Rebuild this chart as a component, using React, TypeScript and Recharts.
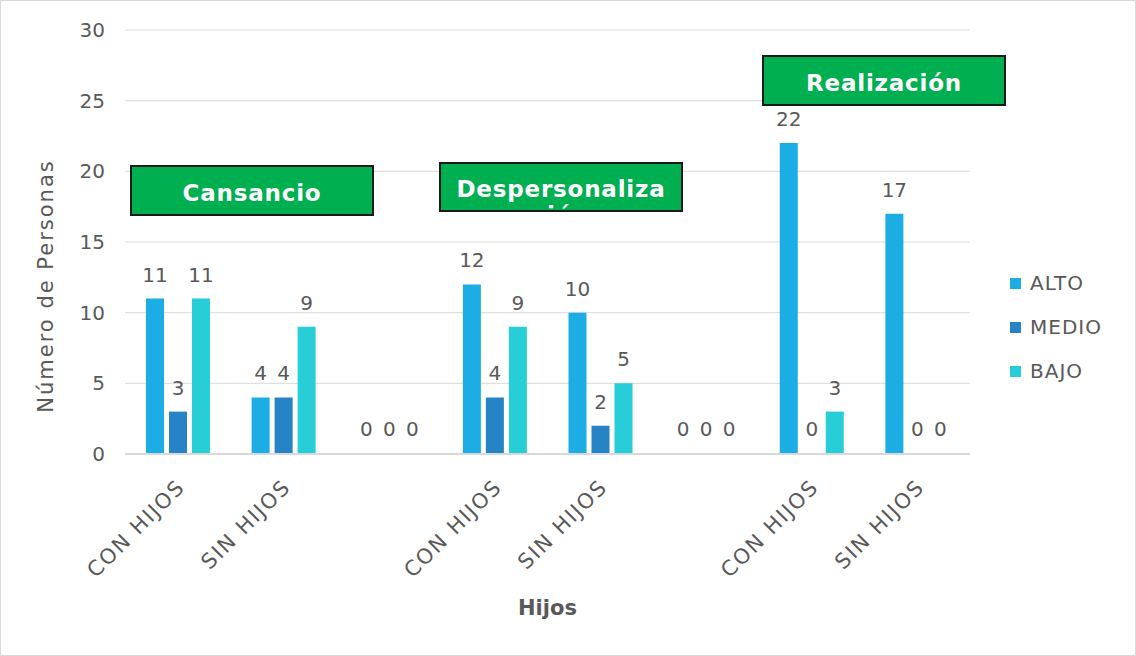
import { BarChart, Bar, XAxis, YAxis, CartesianGrid, Legend, LabelList, Label, Rectangle } from "recharts";

const categories = ["CON HIJOS", "SIN HIJOS", "", "CON HIJOS", "SIN HIJOS", "", "CON HIJOS", "SIN HIJOS"];
const alto = [11, 4, 0, 12, 10, 0, 22, 17];
const medio = [3, 4, 0, 4, 2, 0, 0, 0];
const bajo = [11, 9, 0, 9, 5, 0, 3, 0];
const yTicks = [0, 5, 10, 15, 20, 25, 30];
const seriesOrder = ["ALTO", "MEDIO", "BAJO"];

const data = categories.map((name, i) => ({ name, ALTO: alto[i], MEDIO: medio[i], BAJO: bajo[i] }));

const FONT = "'DejaVu Sans', sans-serif";
const TEXT = "#595959";

function XTick(props: any) {
  const { x, y, payload } = props;
  return (
    <g transform={`translate(${x - 2},${y + 16}) rotate(-45)`}>
      <text x={0} y={0} dy="0.7em" textAnchor="end" fill={TEXT} fontSize={21} fontFamily={FONT} letterSpacing={1.8}>
        {payload.value}
      </text>
    </g>
  );
}

function LegendBox({ payload }: any) {
  return (
    <div style={{ fontFamily: FONT, fontSize: 20, color: TEXT, letterSpacing: 1 }}>
      {(payload || []).map((p: any) => (
        <div key={p.value} style={{ display: "flex", alignItems: "center", height: 44 }}>
          <span style={{ width: 11, height: 11, background: p.color, marginRight: 9, display: "inline-block" }} />
          {p.value}
        </div>
      ))}
    </div>
  );
}

// zero bars keep a 1px rect so their "0" label shows, but the rect itself is not drawn
function BarShape(props: any) {
  if (!props.value) return <g />;
  return <Rectangle {...props} />;
}

const boxStyle: any = {
  position: "absolute",
  width: 240,
  height: 34,
  background: "#00B050",
  border: "2px solid #1a1a1a",
  color: "#fff",
  fontFamily: FONT,
  fontWeight: "bold",
  fontSize: 23,
  letterSpacing: 0.8,
  textAlign: "center",
  lineHeight: "26px",
  paddingTop: 13,
  boxSizing: "content-box",
  overflow: "hidden",
};

const labelProps = { position: "top" as const, offset: 17, fill: TEXT, fontSize: 20, fontFamily: FONT };

export default function App() {
  return (
    <div style={{ position: "relative", width: 1136, height: 656, border: "1px solid #d9d9d9", boxSizing: "border-box", background: "#fff" }}>
      <style>{"body{margin:0}"}</style>
      <BarChart
        width={1134}
        height={654}
        data={data}
        margin={{ top: 29, right: 165, bottom: 0, left: 0 }}
        barCategoryGap={21}
        barGap={5}
      >
        <CartesianGrid vertical={false} stroke="#d9d9d9" />
        <XAxis
          dataKey="name"
          height={201}
          tick={<XTick />}
          tickLine={false}
          axisLine={{ stroke: "#d9d9d9", strokeWidth: 2 }}
          interval={0}
        >
          <Label value="Hijos" position="insideBottom" offset={40} fill={TEXT} fontSize={21} fontWeight="bold" fontFamily={FONT} />
        </XAxis>
        <YAxis
          width={124}
          domain={[0, 30]}
          ticks={yTicks}
          tickLine={false}
          axisLine={false}
          tickMargin={14}
          tick={{ fill: TEXT, fontSize: 20, fontFamily: FONT }}
        >
          <Label
            content={() => (
              <text transform="translate(52,285) rotate(-90)" textAnchor="middle" fill={TEXT} fontSize={21} fontFamily={FONT} letterSpacing={2}>
                Número de Personas
              </text>
            )}
          />
        </YAxis>
        <Legend
          layout="vertical"
          align="center"
          verticalAlign="middle"
          content={<LegendBox />}
          itemSorter={(item: any) => seriesOrder.indexOf(item.value)}
          wrapperStyle={{ position: "absolute", left: 1009, top: 260, width: 120 }}
        />
        <Bar dataKey="ALTO" fill="#1CADE4" minPointSize={1} shape={<BarShape />} isAnimationActive={false}>
          <LabelList dataKey="ALTO" {...labelProps} />
        </Bar>
        <Bar dataKey="MEDIO" fill="#2683C6" minPointSize={1} shape={<BarShape />} isAnimationActive={false}>
          <LabelList dataKey="MEDIO" {...labelProps} />
        </Bar>
        <Bar dataKey="BAJO" fill="#27CED7" minPointSize={1} shape={<BarShape />} isAnimationActive={false}>
          <LabelList dataKey="BAJO" {...labelProps} />
        </Bar>
      </BarChart>
      <div style={{ ...boxStyle, left: 129, top: 164 }}>Cansancio</div>
      <div style={{ ...boxStyle, left: 438, top: 161, paddingTop: 12 }}>
        Despersonaliza
        <br />
        ción
      </div>
      <div style={{ ...boxStyle, left: 761, top: 54 }}>Realización</div>
    </div>
  );
}
